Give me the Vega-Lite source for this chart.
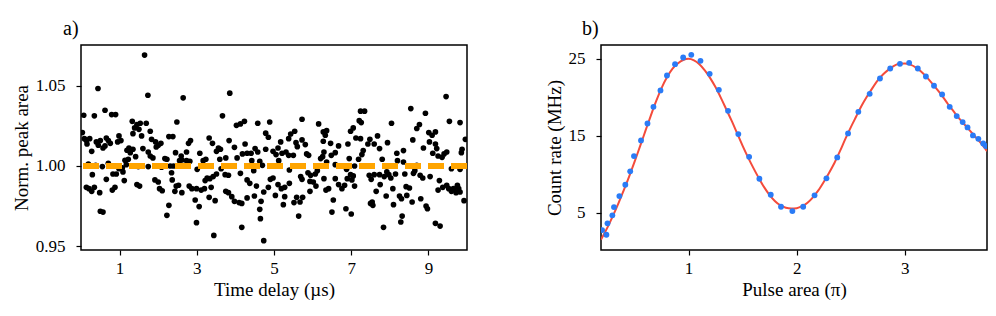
{
"$schema": "https://vega.github.io/schema/vega-lite/v6.json",
"background": "white",
"padding": {"left": 11, "top": 18, "right": 5, "bottom": 5},
"config": {
 "font": "Liberation Serif",
 "view": {"stroke": "#000", "strokeWidth": 1.5},
 "axis": {"domain": false, "grid": false, "tickColor": "#000", "tickSize": 5, "tickWidth": 1.2, "labelColor": "#000", "titleColor": "#000", "labelFontSize": 17, "titleFontSize": 19, "titleFontWeight": "normal", "labelPadding": 5, "labelFont": "Liberation Serif", "titleFont": "Liberation Serif", "labelFlush": false},
 "title": {"font": "Liberation Serif", "fontSize": 20, "fontWeight": "normal", "anchor": "start", "frame": "group", "color": "#000"}
},
"spacing": 74,
"hconcat": [
{
 "width": 386, "height": 205,
 "title": {"text": "a)", "dx": -18, "offset": 6},
 "data": {"values": [
{"t":1.647,"a":1.069},{"t":0.44,"a":1.0482},{"t":1.733,"a":1.044},{"t":0.07,"a":1.0316},{"t":0.346,"a":1.0312},{"t":0.622,"a":1.0347},{"t":0.794,"a":1.032},{"t":0.897,"a":1.032},{"t":2.484,"a":1.0274},{"t":1.328,"a":1.0278},{"t":1.449,"a":1.0258},{"t":1.535,"a":1.0266},{"t":1.69,"a":1.0266},{"t":1.389,"a":1.0237},{"t":1.501,"a":1.0228},{"t":1.794,"a":1.0216},{"t":1.57,"a":1.0187},{"t":1.346,"a":1.0201},{"t":0.035,"a":1.0208},{"t":0.087,"a":1.017},{"t":0.139,"a":1.0158},{"t":0.156,"a":1.0137},{"t":0.225,"a":1.017},{"t":0.397,"a":1.015},{"t":0.449,"a":1.0129},{"t":0.501,"a":1.0158},{"t":0.57,"a":1.0112},{"t":0.656,"a":1.0174},{"t":0.708,"a":1.0158},{"t":0.759,"a":1.0141},{"t":0.622,"a":1.0125},{"t":0.984,"a":1.0187},{"t":1.035,"a":1.0158},{"t":0.949,"a":1.015},{"t":1.828,"a":1.0166},{"t":1.932,"a":1.015},{"t":2.001,"a":1.0129},{"t":2.07,"a":1.0141},{"t":1.949,"a":1.0118},{"t":2.277,"a":1.0183},{"t":2.38,"a":1.0183},{"t":1.242,"a":1.0112},{"t":1.191,"a":1.0098},{"t":1.346,"a":1.0104},{"t":1.277,"a":1.0083},{"t":1.604,"a":1.0108},{"t":0.277,"a":1.0091},{"t":1.742,"a":1.0087},{"t":1.794,"a":1.0062},{"t":1.863,"a":1.005},{"t":2.173,"a":1.0046},{"t":2.225,"a":1.0042},{"t":2.449,"a":1.0083},{"t":2.553,"a":1.0033},{"t":1.139,"a":1.0035},{"t":1.225,"a":1.0042},{"t":1.173,"a":1.0008},{"t":1.415,"a":1.0058},{"t":1.07,"a":0.9988},{"t":0.984,"a":0.9983},{"t":0.863,"a":1.0},{"t":0.191,"a":1.0012},{"t":0.38,"a":1.0004},{"t":0.553,"a":0.9996},{"t":0.708,"a":1.0017},{"t":1.484,"a":0.9996},{"t":1.742,"a":0.9996},{"t":2.087,"a":0.9992},{"t":2.311,"a":1.0},{"t":2.397,"a":1.0},{"t":0.294,"a":0.9946},{"t":0.656,"a":0.9917},{"t":0.828,"a":0.995},{"t":0.915,"a":0.995},{"t":1.087,"a":0.9963},{"t":1.121,"a":0.9909},{"t":0.88,"a":0.9867},{"t":0.811,"a":0.985},{"t":0.139,"a":0.9867},{"t":0.208,"a":0.9859},{"t":0.277,"a":0.9842},{"t":0.346,"a":0.9867},{"t":0.484,"a":0.9834},{"t":1.449,"a":0.9884},{"t":1.518,"a":0.9875},{"t":1.915,"a":0.9913},{"t":2.001,"a":0.99},{"t":2.035,"a":0.9859},{"t":2.104,"a":0.9846},{"t":2.346,"a":0.9958},{"t":2.363,"a":0.9913},{"t":2.432,"a":0.9842},{"t":2.466,"a":0.9875},{"t":0.501,"a":0.9718},{"t":0.57,"a":0.9713},{"t":2.277,"a":0.9755},{"t":2.225,"a":0.9693},
{"t":2.647,"a":1.0424},{"t":3.854,"a":1.0453},{"t":3.665,"a":1.0312},{"t":4.027,"a":1.0253},{"t":4.13,"a":1.0262},{"t":4.234,"a":1.0278},{"t":4.579,"a":1.0266},{"t":4.889,"a":1.0274},{"t":4.785,"a":1.0204},{"t":4.854,"a":1.0179},{"t":2.786,"a":1.0141},{"t":2.837,"a":1.0158},{"t":2.734,"a":1.0087},{"t":2.596,"a":1.0062},{"t":3.32,"a":1.0174},{"t":3.406,"a":1.0141},{"t":3.561,"a":1.0112},{"t":3.51,"a":1.0091},{"t":3.613,"a":1.0104},{"t":3.837,"a":1.0158},{"t":3.975,"a":1.0116},{"t":4.251,"a":1.0137},{"t":4.044,"a":1.005},{"t":4.182,"a":1.0075},{"t":4.303,"a":1.0079},{"t":4.406,"a":1.0079},{"t":4.51,"a":1.0108},{"t":4.579,"a":1.0087},{"t":4.785,"a":1.0104},{"t":4.631,"a":1.0029},{"t":4.424,"a":1.0033},{"t":4.975,"a":1.0091},{"t":3.078,"a":1.0079},{"t":3.165,"a":1.0033},{"t":3.234,"a":1.0042},{"t":2.613,"a":1.0037},{"t":2.734,"a":1.0033},{"t":2.82,"a":1.0029},{"t":3.01,"a":0.9979},{"t":3.596,"a":1.0042},{"t":3.751,"a":1.005},{"t":3.63,"a":0.9983},{"t":3.51,"a":0.995},{"t":3.424,"a":0.9934},{"t":3.337,"a":0.9921},{"t":3.268,"a":0.9925},{"t":3.216,"a":0.9909},{"t":3.734,"a":0.9946},{"t":3.82,"a":0.9942},{"t":4.13,"a":0.9954},{"t":4.475,"a":0.9971},{"t":4.699,"a":1.0004},{"t":2.527,"a":0.988},{"t":2.613,"a":0.9834},{"t":2.803,"a":0.9875},{"t":2.872,"a":0.9859},{"t":2.992,"a":0.9859},{"t":3.113,"a":0.985},{"t":3.199,"a":0.9859},{"t":3.372,"a":0.9867},{"t":3.32,"a":0.9805},{"t":3.475,"a":0.9784},{"t":3.751,"a":0.9842},{"t":3.82,"a":0.9834},{"t":3.906,"a":0.9809},{"t":3.975,"a":0.978},{"t":4.096,"a":0.9772},{"t":4.165,"a":0.9767},{"t":4.303,"a":0.9801},{"t":4.303,"a":0.9913},{"t":4.372,"a":0.9892},{"t":4.492,"a":0.9813},{"t":4.544,"a":0.9875},{"t":4.734,"a":0.9838},{"t":4.854,"a":0.9867},{"t":4.906,"a":0.9917},{"t":4.975,"a":0.9925},{"t":4.665,"a":0.978},{"t":2.958,"a":0.9788},{"t":3.061,"a":0.9747},{"t":4.631,"a":0.973},{"t":4.648,"a":0.9672},{"t":2.992,"a":0.9647},{"t":3.441,"a":0.9568},{"t":4.165,"a":0.9618},{"t":4.734,"a":0.9535},
{"t":7.242,"a":1.0341},{"t":7.346,"a":1.0341},{"t":7.208,"a":1.0282},{"t":7.26,"a":1.027},{"t":7.053,"a":1.0237},{"t":6.984,"a":1.0216},{"t":5.726,"a":1.0291},{"t":6.156,"a":1.0262},{"t":6.277,"a":1.0212},{"t":6.363,"a":1.022},{"t":6.329,"a":1.0191},{"t":6.277,"a":1.0154},{"t":5.536,"a":1.0216},{"t":5.432,"a":1.0199},{"t":5.38,"a":1.017},{"t":5.173,"a":1.015},{"t":5.104,"a":1.0112},{"t":5.57,"a":1.0145},{"t":5.604,"a":1.012},{"t":5.726,"a":1.0162},{"t":5.811,"a":1.0133},{"t":5.846,"a":1.0075},{"t":5.897,"a":1.0066},{"t":6.466,"a":1.0141},{"t":6.673,"a":1.0125},{"t":6.587,"a":1.0083},{"t":6.484,"a":1.0066},{"t":6.294,"a":1.0087},{"t":6.208,"a":1.0046},{"t":6.915,"a":1.0137},{"t":7.122,"a":1.0174},{"t":7.242,"a":1.017},{"t":7.484,"a":1.0166},{"t":7.432,"a":1.0137},{"t":7.311,"a":1.0096},{"t":7.277,"a":1.0071},{"t":7.191,"a":1.0042},{"t":6.949,"a":1.0046},{"t":7.087,"a":1.0},{"t":6.673,"a":1.0},{"t":6.587,"a":1.0008},{"t":5.053,"a":1.0071},{"t":5.208,"a":1.0079},{"t":5.311,"a":1.0087},{"t":5.38,"a":1.0066},{"t":5.501,"a":1.0066},{"t":5.122,"a":1.0033},{"t":6.122,"a":0.9971},{"t":6.07,"a":0.995},{"t":5.949,"a":0.9942},{"t":5.88,"a":0.9958},{"t":6.26,"a":1.0058},{"t":6.363,"a":1.0025},{"t":6.88,"a":0.9979},{"t":5.104,"a":0.9884},{"t":5.19,"a":0.9859},{"t":5.277,"a":0.9867},{"t":5.398,"a":0.9892},{"t":5.398,"a":0.9975},{"t":5.691,"a":0.9934},{"t":5.726,"a":0.9917},{"t":5.932,"a":0.9904},{"t":6.018,"a":0.99},{"t":6.087,"a":0.9875},{"t":6.294,"a":0.9921},{"t":6.415,"a":0.9859},{"t":6.346,"a":0.985},{"t":6.587,"a":0.9921},{"t":6.673,"a":0.9884},{"t":6.829,"a":0.988},{"t":6.76,"a":0.9859},{"t":6.898,"a":0.9921},{"t":6.984,"a":0.9946},{"t":7.053,"a":0.9938},{"t":7.018,"a":0.9913},{"t":7.087,"a":0.9875},{"t":7.467,"a":0.9942},{"t":7.518,"a":0.9917},{"t":5.036,"a":0.9817},{"t":5.277,"a":0.9809},{"t":5.242,"a":0.9759},{"t":5.587,"a":0.9805},{"t":5.742,"a":0.9805},{"t":5.674,"a":0.9776},{"t":5.518,"a":0.9772},{"t":5.932,"a":0.9842},{"t":6.536,"a":0.9788},{"t":6.501,"a":0.9713},{"t":6.863,"a":0.9734},{"t":7.001,"a":0.9701},{"t":5.639,"a":0.9688},{"t":7.501,"a":0.9767},
{"t":9.458,"a":1.0432},{"t":8.544,"a":1.0357},{"t":8.923,"a":1.0328},{"t":9.544,"a":1.0278},{"t":9.82,"a":1.027},{"t":8.044,"a":1.0266},{"t":8.768,"a":1.0258},{"t":8.699,"a":1.0233},{"t":9.01,"a":1.0208},{"t":9.182,"a":1.0212},{"t":9.096,"a":1.0191},{"t":8.596,"a":1.0162},{"t":9.027,"a":1.015},{"t":9.958,"a":1.0166},{"t":7.682,"a":1.0187},{"t":7.941,"a":1.0145},{"t":7.596,"a":1.0137},{"t":7.734,"a":1.0108},{"t":8.871,"a":1.0112},{"t":9.182,"a":1.0137},{"t":9.216,"a":1.0108},{"t":9.113,"a":1.0079},{"t":9.251,"a":1.0062},{"t":9.475,"a":1.0087},{"t":9.406,"a":1.0075},{"t":9.354,"a":1.0054},{"t":9.872,"a":1.0104},{"t":9.854,"a":1.0083},{"t":8.182,"a":1.0079},{"t":8.354,"a":1.0096},{"t":7.803,"a":1.0042},{"t":8.199,"a":1.0033},{"t":8.354,"a":1.0025},{"t":8.699,"a":1.0004},{"t":9.096,"a":1.0},{"t":9.82,"a":0.9979},{"t":9.596,"a":0.9983},{"t":7.596,"a":0.9946},{"t":7.734,"a":0.9946},{"t":7.855,"a":0.9934},{"t":7.975,"a":0.9946},{"t":7.923,"a":0.9963},{"t":8.148,"a":0.995},{"t":8.027,"a":0.9925},{"t":8.389,"a":0.995},{"t":8.613,"a":0.9954},{"t":8.648,"a":0.9971},{"t":8.786,"a":0.9942},{"t":8.854,"a":0.9925},{"t":9.044,"a":0.9934},{"t":9.285,"a":0.9909},{"t":7.751,"a":0.9884},{"t":7.647,"a":0.9842},{"t":8.079,"a":0.9859},{"t":7.906,"a":0.9813},{"t":8.096,"a":0.9759},{"t":8.251,"a":0.9813},{"t":8.303,"a":0.9796},{"t":8.423,"a":0.9871},{"t":8.44,"a":0.9817},{"t":8.509,"a":0.9863},{"t":8.578,"a":0.9776},{"t":8.802,"a":0.9796},{"t":8.94,"a":0.9751},{"t":8.975,"a":0.9734},{"t":9.251,"a":0.985},{"t":9.372,"a":0.9867},{"t":9.475,"a":0.988},{"t":9.527,"a":0.9859},{"t":9.596,"a":0.9842},{"t":9.647,"a":0.9859},{"t":9.751,"a":0.988},{"t":9.785,"a":0.9859},{"t":9.716,"a":0.9834},{"t":9.82,"a":0.9838},{"t":9.923,"a":0.9784},{"t":7.544,"a":0.9776},{"t":7.561,"a":0.9755},{"t":8.32,"a":0.9688},{"t":8.285,"a":0.9651},{"t":7.837,"a":0.9618},{"t":9.182,"a":0.9643},{"t":9.303,"a":0.9626}
 ]},
 "layer": [
  {"mark": {"type": "circle", "size": 32, "color": "#000", "opacity": 1, "clip": true},
   "encoding": {
    "x": {"field": "t", "type": "quantitative", "scale": {"domain": [0, 10], "nice": false, "zero": false}, "axis": {"values": [1, 3, 5, 7, 9], "format": "d", "title": "Time delay (µs)"}},
    "y": {"field": "a", "type": "quantitative", "scale": {"domain": [0.9477, 1.0753], "nice": false, "zero": false}, "axis": {"values": [0.95, 1.0, 1.05], "format": ".2f", "title": "Norm. peak area", "labelPadding": 11}}}},
  {"mark": {"type": "rule", "color": "#ffa500", "strokeWidth": 4.5, "strokeDash": [16, 7]}, "encoding": {"y": {"datum": 1}}}
 ]
},
{
 "width": 386, "height": 205,
 "title": {"text": "b)", "dx": -19, "offset": 6},
 "layer": [
  {"data": {"values": [
{"p":0.19,"c":1.5},{"p":0.25,"c":3.1},{"p":0.3,"c":4.6},{"p":0.35,"c":6.2},{"p":0.4,"c":7.9},{"p":0.45,"c":9.7},{"p":0.5,"c":11.6},{"p":0.55,"c":13.6},{"p":0.6,"c":15.6},{"p":0.65,"c":17.6},{"p":0.7,"c":19.5},{"p":0.75,"c":21.2},{"p":0.8,"c":22.6},{"p":0.85,"c":23.7},{"p":0.9,"c":24.4},{"p":0.95,"c":24.85},{"p":1.0,"c":25.0},{"p":1.05,"c":24.8},{"p":1.1,"c":24.3},{"p":1.15,"c":23.5},{"p":1.2,"c":22.5},{"p":1.25,"c":21.3},{"p":1.3,"c":19.9},{"p":1.35,"c":18.4},{"p":1.4,"c":16.9},{"p":1.45,"c":15.3},{"p":1.5,"c":13.7},{"p":1.55,"c":12.2},{"p":1.6,"c":10.8},{"p":1.65,"c":9.5},{"p":1.7,"c":8.3},{"p":1.75,"c":7.3},{"p":1.8,"c":6.5},{"p":1.85,"c":5.95},{"p":1.9,"c":5.65},{"p":1.95,"c":5.55},{"p":2.0,"c":5.6},{"p":2.05,"c":5.85},{"p":2.1,"c":6.3},{"p":2.15,"c":7.0},{"p":2.2,"c":7.9},{"p":2.25,"c":9.0},{"p":2.3,"c":10.2},{"p":2.35,"c":11.5},{"p":2.4,"c":13.0},{"p":2.45,"c":14.6},{"p":2.5,"c":16.1},{"p":2.55,"c":17.5},{"p":2.6,"c":18.9},{"p":2.65,"c":20.1},{"p":2.7,"c":21.2},{"p":2.75,"c":22.2},{"p":2.8,"c":23.0},{"p":2.85,"c":23.6},{"p":2.9,"c":24.1},{"p":2.95,"c":24.35},{"p":3.0,"c":24.4},{"p":3.05,"c":24.25},{"p":3.1,"c":23.9},{"p":3.15,"c":23.35},{"p":3.2,"c":22.65},{"p":3.25,"c":21.85},{"p":3.3,"c":21.0},{"p":3.35,"c":20.1},{"p":3.4,"c":19.1},{"p":3.45,"c":18.2},{"p":3.5,"c":17.3},{"p":3.55,"c":16.5},{"p":3.6,"c":15.7},{"p":3.65,"c":14.9},{"p":3.7,"c":14.1},{"p":3.76,"c":13.0}
  ]},
   "mark": {"type": "line", "color": "#f44b3b", "strokeWidth": 2, "clip": true, "interpolate": "monotone"},
   "encoding": {
    "x": {"field": "p", "type": "quantitative", "scale": {"domain": [0.19, 3.76], "nice": false, "zero": false}, "axis": {"values": [1, 2, 3], "format": "d", "title": "Pulse area (π)"}},
    "y": {"field": "c", "type": "quantitative", "scale": {"domain": [0.16, 26.8], "nice": false, "zero": false}, "axis": {"values": [5, 15, 25], "format": "d", "title": "Count rate (MHz)", "labelPadding": 11}}}},
  {"data": {"values": [
{"p":0.2,"c":2.75},{"p":0.24,"c":2.14},{"p":0.25,"c":3.62},{"p":0.295,"c":4.66},{"p":0.31,"c":5.74},{"p":0.36,"c":7.17},{"p":0.415,"c":8.64},{"p":0.46,"c":10.38},{"p":0.495,"c":12.36},{"p":0.56,"c":14.4},{"p":0.62,"c":16.6},{"p":0.675,"c":18.77},{"p":0.74,"c":20.9},{"p":0.8,"c":22.84},{"p":0.875,"c":24.31},{"p":0.95,"c":25.18},{"p":1.025,"c":25.52},{"p":1.11,"c":24.74},{"p":1.195,"c":23.05},{"p":1.28,"c":20.97},{"p":1.365,"c":18.25},{"p":1.46,"c":15.22},{"p":1.56,"c":12.27},{"p":1.655,"c":9.42},{"p":1.76,"c":7.34},{"p":1.855,"c":5.78},{"p":1.96,"c":5.22},{"p":2.06,"c":5.78},{"p":2.165,"c":7.26},{"p":2.275,"c":9.47},{"p":2.375,"c":12.19},{"p":2.475,"c":15.31},{"p":2.57,"c":18.12},{"p":2.675,"c":20.45},{"p":2.77,"c":22.45},{"p":2.865,"c":23.75},{"p":2.955,"c":24.35},{"p":3.04,"c":24.48},{"p":3.12,"c":23.75},{"p":3.195,"c":22.71},{"p":3.27,"c":21.5},{"p":3.345,"c":20.38},{"p":3.415,"c":18.77},{"p":3.48,"c":17.56},{"p":3.535,"c":16.78},{"p":3.58,"c":16.09},{"p":3.63,"c":15.05},{"p":3.68,"c":14.61},{"p":3.725,"c":14.0},{"p":3.75,"c":13.66}
  ]},
   "mark": {"type": "circle", "size": 34, "color": "#2a7bf6", "opacity": 1, "clip": true},
   "encoding": {"x": {"field": "p", "type": "quantitative"}, "y": {"field": "c", "type": "quantitative"}}}
 ]
}
]
}
